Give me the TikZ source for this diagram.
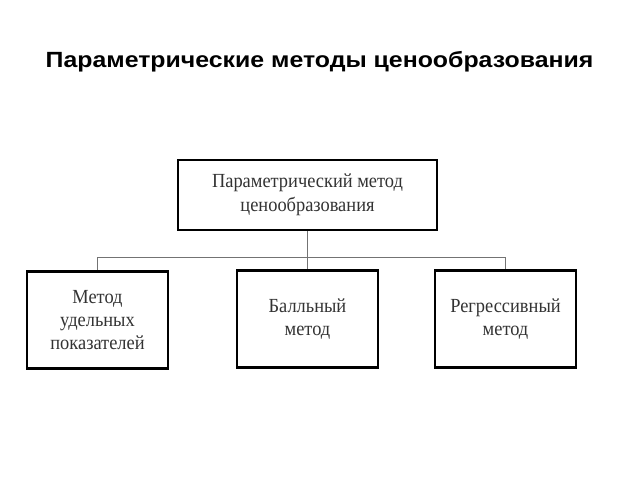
\documentclass[tikz,border=0pt]{standalone}
\usepackage{fontspec}
\setmainfont{Liberation Serif}
\newfontfamily\boxfont[FakeStretch=0.92]{Liberation Serif}
\newfontfamily\titlefont[FakeStretch=1.13]{Liberation Sans}
\usetikzlibrary{positioning}

\def\boxwidth{141pt}

\begin{document}
\begin{tikzpicture}[x=1pt,y=1pt]
		\tikzstyle{method}=[draw=black,line width=2.4pt,align=center,text=black!80,font=\boxfont\fontsize{20}{23}\selectfont,inner sep=0pt]
		\tikzstyle{main method}=[method, minimum width=259pt, minimum height=70pt];
		\tikzstyle{sub method}=[method, minimum width=\boxwidth, minimum height=97pt];
		\tikzstyle{connector}=[draw=black!55,line width=0.8pt]
		\tikzstyle{heading}=[font=\titlefont\bfseries\fontsize{22}{26}\selectfont,anchor=base]

		\useasboundingbox (0,0) rectangle (640,-480);

		% Title
		\node[heading] (title) at (319.5,-67) {Параметрические методы ценообразования};

		% Draw the top box
		\node[main method,font=\boxfont\fontsize{20}{24.5}\selectfont] (M) at (307.5,-195) {Параметрический метод\\ценообразования};

		% Draw the three method boxes
		\node[sub method] (M-1) at (97.5,-320) {Метод\\удельных\\показателей};
		\node[sub method] (M-2) at (307.5,-319) {Балльный\\метод};
		\node[sub method] (M-3) at (505.5,-319) {Регрессивный\\метод};

		% Connect the top box with every method box
		\coordinate (bus) at (307.5,-257);
		\path[connector] (M.south) -- (bus);
		\foreach \dest in {1,...,3}
		\path[connector] (bus) -| (M-\dest.north);
\end{tikzpicture}
\end{document}
